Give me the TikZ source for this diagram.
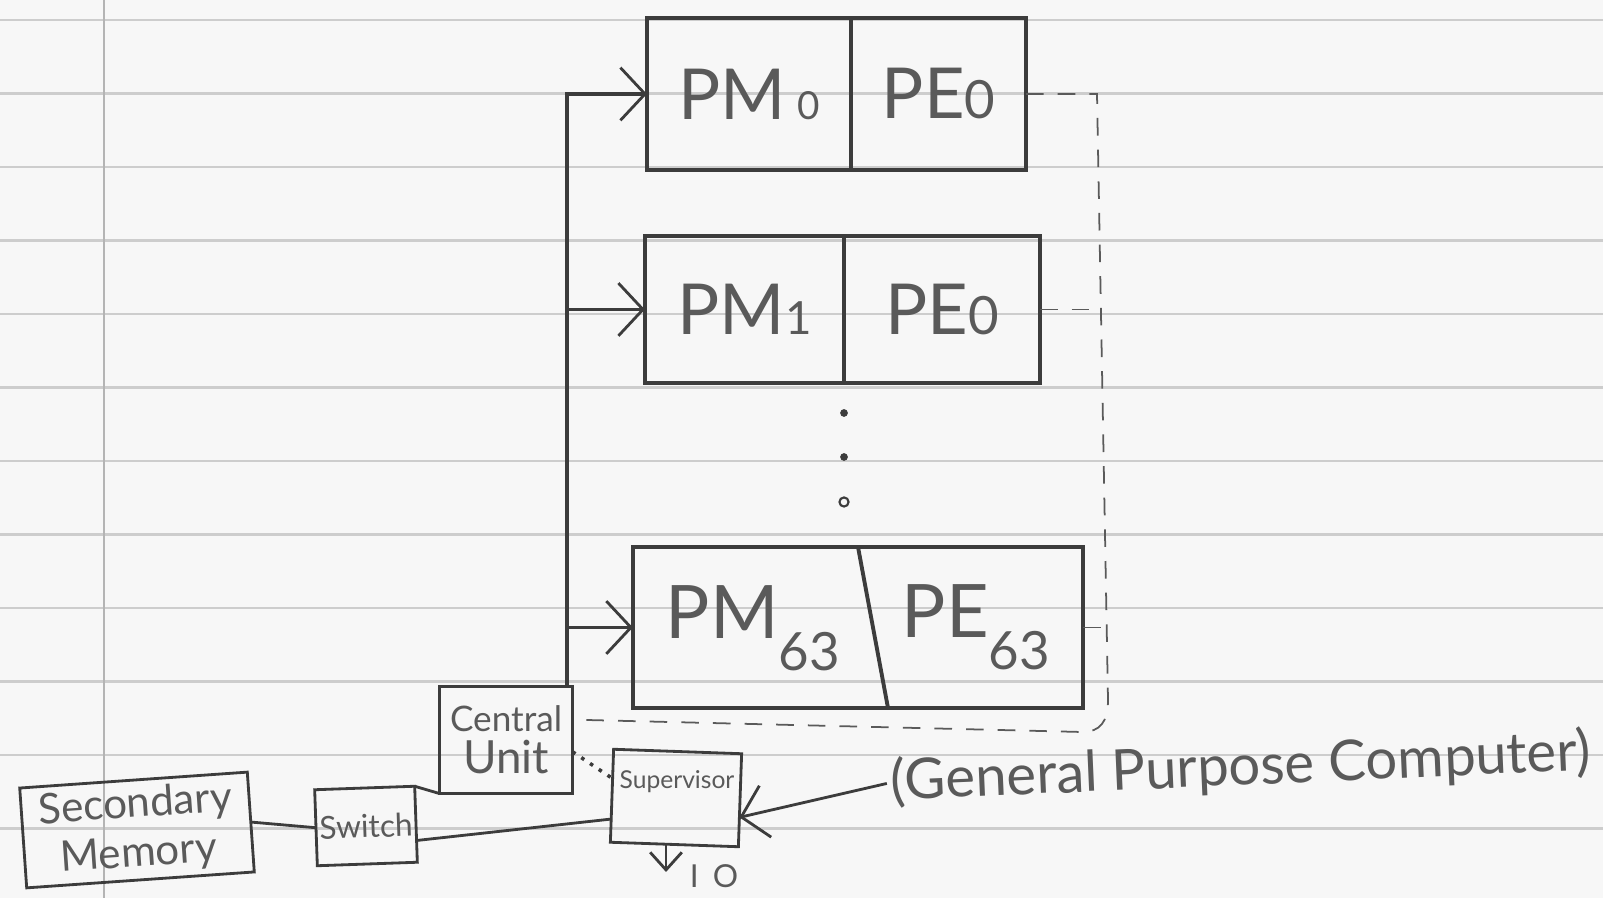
\documentclass[tikz,border=0pt]{standalone}
\usepackage{fontspec}
\setmainfont{Lato}
\usetikzlibrary{arrows.meta,calc}
\definecolor{pen}{HTML}{3C3C3C}
\definecolor{penlight}{HTML}{5A5A5A}
\definecolor{rulec}{HTML}{CDCDCD}
\definecolor{marginc}{HTML}{B4B4B4}
\definecolor{paper}{HTML}{F7F7F7}
\begin{document}
\begin{tikzpicture}[x=0.01cm,y=-0.01cm,
  box/.style={draw=pen,line width=1.1pt,rectangle,inner sep=0pt,outer sep=0pt,text=penlight,font=\fontsize{20}{22}\selectfont},
  sbox/.style={draw=pen,line width=0.8pt,rectangle,inner sep=0pt,outer sep=0pt,text=penlight,align=center},
  big/.style={text=penlight,font=\fontsize{21}{23}\selectfont,inner sep=0pt},
  barb/.style={-{Straight Barb[length=7pt,width=15pt,line width=0.8pt]}},
  dashbus/.style={draw=penlight,line width=0.5pt,dash pattern=on 5pt off 4pt},
  wire/.style={draw=pen,line width=0.8pt},
]
\fill[paper] (0,0) rectangle (1603,898);
\useasboundingbox (0,0) rectangle (1603,898);
\foreach \yy in {20,93.5,...,890} \draw[rulec,line width=0.7pt] (0,\yy) -- (1603,\yy);
\draw[marginc,line width=0.8pt] (104,0) -- (104,898);

% processor rows
\node[box,minimum width=2.04cm,minimum height=1.52cm] (pm0) at (749,94) {PM\,{\fontsize{11}{11}\selectfont 0}};
\node[box,minimum width=1.75cm,minimum height=1.52cm] (pe0) at (938.5,94) {PE{\fontsize{15}{15}\selectfont 0}};
\node[box,minimum width=1.99cm,minimum height=1.47cm] (pm1) at (744.5,309.5) {PM{\fontsize{13}{13}\selectfont 1}};
\node[box,minimum width=1.96cm,minimum height=1.47cm] (pe1) at (942,309.5) {PE{\fontsize{15}{15}\selectfont 0}};
\node[box,minimum width=4.5cm,minimum height=1.61cm] (r63) at (858,627.5) {};
\node[big] (pm63) at (753,628) {PM\raisebox{-9pt}{\fontsize{15}{15}\selectfont 63}};
\node[big] (pe63) at (976,627) {PE\raisebox{-9pt}{\fontsize{15}{15}\selectfont 63}};
\draw[pen,line width=1.1pt] (r63.north) -- ($(r63.south)+(30,0)$);

% dots
\fill[pen] (844,413) circle[radius=1.1pt];
\fill[pen] (844,457) circle[radius=1.1pt];
\draw[pen,line width=0.6pt] (844,502) circle[radius=1.3pt];

% lower blocks
\node[sbox,minimum width=2.28cm,minimum height=1.0cm,rotate=4,font=\fontsize{12}{14}\selectfont] (sm) at (137,830) {Secondary\\Memory};
\node[sbox,minimum width=1.0cm,minimum height=0.76cm,rotate=2,font=\fontsize{9}{10}\selectfont] (sw) at (366,826) {Switch};
\node[sbox,minimum width=1.33cm,minimum height=1.07cm] (cu) at (506,740) {{\fontsize{10}{12}\selectfont Central}\\{\fontsize{13}{15}\selectfont Unit}};
\node[sbox,minimum width=1.28cm,minimum height=0.93cm,rotate=-2] (sup) at (676,798) {};
\node[text=penlight,font=\fontsize{7}{8}\selectfont,inner sep=0pt] (suptext) at (677,782) {Supervisor};
\node[text=penlight,font=\fontsize{16}{18}\selectfont,rotate=2.5,inner sep=1pt] (gpc) at (1241,768) {(General Purpose Computer)};
\node[text=penlight,font=\fontsize{9}{10}\selectfont,inner sep=0pt] (io) at (714,876) {I\kern4pt O};
\coordinate (ioa) at (666,872);

% bus
\coordinate (btop) at (567,94);
\draw[pen,line width=0.9pt,barb] (cu.north east -| btop) -- (btop) -- (pm0.west);
\draw[pen,line width=0.8pt,barb] (pm1.west -| btop) -- (pm1.west);
\draw[pen,line width=0.8pt,barb] (r63.west -| btop) -- (r63.west);

% dashed PE interconnect
\coordinate (dtop) at (1097,94);
\coordinate (dbend) at (1108,700);
\coordinate (dcorn) at (1082,732);
\draw[dashbus] (pe0.east) -- (dtop) -- (dbend) .. controls (1108,722) and (1100,732) .. (dcorn) -- (cu.17);
\draw[dashbus] (pe1.east) -- (pe1.east -| dtop);
\draw[dashbus] (r63.east) -- (r63.east -| dbend);

% lower wiring
\draw[wire] (sm.east) -- (sw.west);
\draw[wire] (sw.north east) -- (cu.south west);
\draw[wire] (sw.-18) -- (sup.200);
\draw[pen,line width=1pt,dotted] (cu.-10) -- (sup.165);
\draw[wire,barb] (gpc.west) -- (sup.-15);
\draw[wire,-{Straight Barb[length=5pt,width=9pt,line width=0.8pt]}] (sup.south -| ioa) -- (ioa);
\end{tikzpicture}
\end{document}
